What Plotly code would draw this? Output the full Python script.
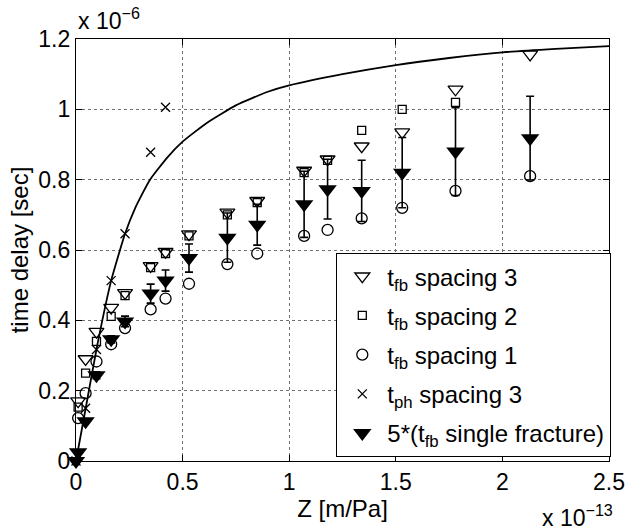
import plotly.graph_objects as go

# ---- data (x in units of 1e-13 m/Pa, y in units of 1e-6 s) ----
cols = [0.01, 0.045, 0.096, 0.165, 0.23, 0.35, 0.42, 0.53, 0.71, 0.85, 1.07, 1.18, 1.34, 1.53, 1.78, 2.13]

tri3_y = [0.17, 0.29, 0.368, 0.436, 0.478, 0.555, 0.595, 0.645, 0.707, 0.74, 0.826, 0.858, 0.895, 0.935, 1.057, 1.156]

sq2_x = [0.01, 0.045, 0.096, 0.165, 0.23, 0.35, 0.42, 0.53, 0.71, 0.85, 1.07, 1.18, 1.34, 1.53, 1.78]
sq2_y = [0.153, 0.25, 0.34, 0.411, 0.47, 0.55, 0.59, 0.64, 0.70, 0.735, 0.82, 0.855, 0.94, 1.0, 1.02]

circ1_x = [0.0, 0.01, 0.045, 0.096, 0.165, 0.23, 0.35, 0.42, 0.53, 0.71, 0.85, 1.07, 1.18, 1.34, 1.53, 1.78, 2.13]
circ1_y = [-0.01, 0.122, 0.193, 0.283, 0.332, 0.378, 0.431, 0.462, 0.504, 0.56, 0.59, 0.64, 0.657, 0.69, 0.72, 0.768, 0.81]

ph3_x = [0.0, 0.045, 0.096, 0.165, 0.23, 0.35, 0.42]
ph3_y = [0.0, 0.15, 0.317, 0.513, 0.646, 0.878, 1.006]

single_x = [0.0, 0.01, 0.045, 0.096, 0.165, 0.23, 0.35, 0.42, 0.53, 0.71, 0.85, 1.07, 1.18, 1.34, 1.53, 1.78, 2.13]
single_y = [0.0, 0.025, 0.113, 0.244, 0.346, 0.397, 0.476, 0.513, 0.577, 0.635, 0.672, 0.73, 0.773, 0.768, 0.82, 0.88, 0.918]
single_err = [0.0, 0.0, 0.005, 0.01, 0.01, 0.015, 0.027, 0.03, 0.04, 0.07, 0.058, 0.094, 0.085, 0.087, 0.1, 0.125, 0.119]

curve_x = [0, 0.05, 0.1, 0.165, 0.23, 0.278, 0.347, 0.431, 0.5, 0.615, 0.752, 0.9, 1.0, 1.25, 1.5, 1.75, 2.0, 2.25, 2.5]
curve_y = [0, 0.165, 0.33, 0.513, 0.646, 0.72, 0.80, 0.865, 0.908, 0.962, 1.012, 1.050, 1.068, 1.100, 1.126, 1.146, 1.162, 1.172, 1.18]

names = ["t<sub>fb</sub> spacing 3", "t<sub>fb</sub> spacing 2", "t<sub>fb</sub> spacing 1",
         "t<sub>ph</sub> spacing 3", "5*(t<sub>fb</sub> single fracture)"]
x_ticks = [0, 0.5, 1, 1.5, 2, 2.5]
x_tick_text = ["0", "0.5", "1", "1.5", "2", "2.5"]
y_ticks = [0, 0.2, 0.4, 0.6, 0.8, 1.0, 1.2]
y_tick_text = ["0", "0.2", "0.4", "0.6", "0.8", "1", "1.2"]

FONT = "Liberation Sans, Arial, Helvetica, sans-serif"
TICK_FS = 23
TITLE_FS = 24
LEG_FS = 24

fig = go.Figure()

fig.add_trace(go.Scatter(x=curve_x, y=curve_y, mode="lines",
                         line=dict(color="black", width=1.8, shape="spline", smoothing=0.5),
                         showlegend=False, hoverinfo="skip"))

fig.add_trace(go.Scatter(x=cols, y=tri3_y, mode="markers", name=names[0], legendgroup="a",
                         marker=dict(symbol="triangle-down-open", size=13, color="black", line=dict(width=1.3)),
                         cliponaxis=False))
fig.add_trace(go.Scatter(x=sq2_x, y=sq2_y, mode="markers", name=names[1], legendgroup="b",
                         marker=dict(symbol="square-open", size=8, color="black", line=dict(width=1.3)),
                         cliponaxis=False))
fig.add_trace(go.Scatter(x=circ1_x, y=circ1_y, mode="markers", name=names[2], legendgroup="c",
                         marker=dict(symbol="circle-open", size=11, color="black", line=dict(width=1.3)),
                         cliponaxis=False))
fig.add_trace(go.Scatter(x=ph3_x, y=ph3_y, mode="markers", name=names[3], legendgroup="d",
                         marker=dict(symbol="x-thin-open", size=9, color="black", line=dict(width=1.3)),
                         cliponaxis=False))
fig.add_trace(go.Scatter(x=single_x, y=single_y, mode="markers", name=names[4], legendgroup="e",
                         marker=dict(symbol="triangle-down", size=16, color="black"),
                         error_y=dict(type="data", array=single_err, visible=True, color="black", thickness=1.6, width=4),
                         cliponaxis=False))

axis_common = dict(showline=True, linecolor="black", linewidth=1.2, mirror="allticks", ticks="inside",
                   ticklen=6, tickcolor="black", showgrid=True, gridcolor="#707070", griddash="dot",
                   gridwidth=1, zeroline=False, tickfont=dict(size=TICK_FS, color="black", family=FONT))

fig.update_xaxes(range=[0, 2.5], tickvals=x_ticks, ticktext=x_tick_text, **axis_common,
                 title=dict(text="Z [m/Pa]", font=dict(size=TITLE_FS, color="black", family=FONT), standoff=0))
fig.update_yaxes(range=[0, 1.2], tickvals=y_ticks, ticktext=y_tick_text, **axis_common,
                 title=dict(text="time delay [sec]", font=dict(size=TITLE_FS, color="black", family=FONT), standoff=2))

fig.add_annotation(text="x 10<sup>−6</sup>", x=0, y=1.0, xref="paper", yref="paper", xanchor="left", yanchor="bottom",
                   showarrow=False, font=dict(size=TICK_FS, color="black", family=FONT), yshift=3)
fig.add_annotation(text="x 10<sup>−13</sup>", x=1.0, y=0, xref="paper", yref="paper", xanchor="right", yanchor="top",
                   showarrow=False, font=dict(size=TICK_FS, color="black", family=FONT), yshift=-38, xshift=6)

fig.update_layout(width=637, height=531, margin=dict(l=76, r=16, t=39, b=70),
                  paper_bgcolor="white", plot_bgcolor="white",
                  font=dict(family=FONT, color="black", size=TICK_FS),
                  legend=dict(x=0.488, y=0.493, xanchor="left", yanchor="top", bgcolor="white",
                              traceorder="grouped", tracegroupgap=5, itemwidth=40,
                              bordercolor="black", borderwidth=1.2, font=dict(size=LEG_FS, family=FONT, color="black")),
                  showlegend=True)

fig.write_html("out.html")
